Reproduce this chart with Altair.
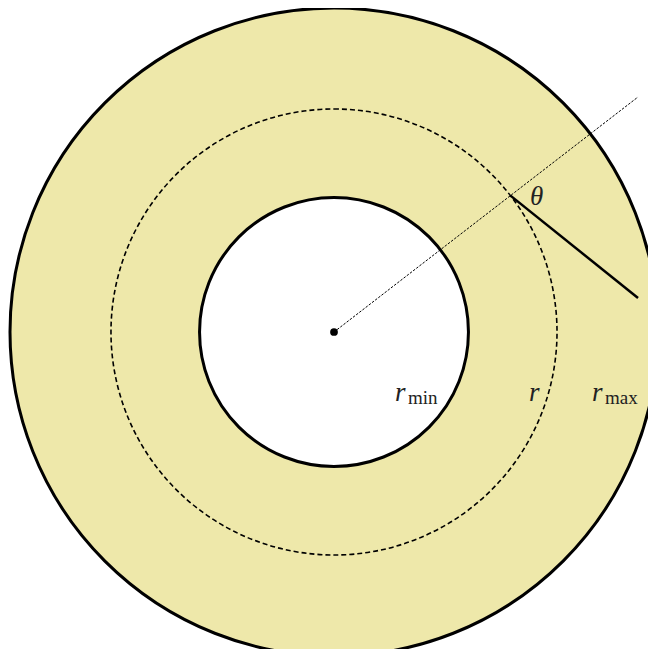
import math
import altair as alt
import pandas as pd

# --- values (units: 1 unit = 108 px) ---
R_MIN = 1.245          # inner radius  (r_min)
R_MID = 2.065          # dashed circle (r)
R_MAX = 3.0            # outer radius  (r_max)
RAY_ANGLE_DEG = 37.7   # direction of the dotted ray
RAY_END = [2.815, 2.176]
SEG_END = [2.815, 0.315]

LABELS = ["r", "r", "r", "θ"]
LABEL_X = [0.565, 1.805, 2.39, 1.815]
LABEL_Y = [-0.639, -0.639, -0.639, 1.176]
SUBS = ["min", "max"]
SUB_X = [0.685, 2.509]
SUB_Y = [-0.667, -0.667]

PX = 108.0
W, H = 640, 641
CX, CY = 326, 324  # centre in plot pixels
xdom = [-CX / PX, (W - CX) / PX]
ydom = [-(H - CY) / PX, CY / PX]

xs = alt.Scale(domain=xdom, nice=False, zero=False)
ys = alt.Scale(domain=ydom, nice=False, zero=False)
rs = alt.Scale(type="linear", domain=[0, R_MAX], range=[0, R_MAX * PX], zero=True, nice=False)

X = lambda f="x": alt.X(f"{f}:Q", scale=xs, axis=None)
Y = lambda f="y": alt.Y(f"{f}:Q", scale=ys, axis=None)

ring = pd.DataFrame({"x": [0.0], "y": [0.0], "r0": [R_MIN], "r1": [R_MAX], "rm": [R_MID], "z": [0.0]})

annulus = alt.Chart(ring).mark_arc(fill="#EEE8AA", stroke="black", strokeWidth=3).encode(
    x=X(), y=Y(),
    radius=alt.Radius("r1:Q", scale=rs),
    radius2="r0:Q",
    theta=alt.value(0), theta2=alt.value(2 * math.pi),
)

dashed = alt.Chart(ring).mark_arc(fill="white", fillOpacity=0, stroke="black",
                                   strokeWidth=1.6, strokeDash=[5, 3]).encode(
    x=X(), y=Y(),
    radius=alt.Radius("rm:Q", scale=rs),
    radius2="z:Q",
    theta=alt.value(0), theta2=alt.value(2 * math.pi),
)

a = math.radians(RAY_ANGLE_DEG)
p0 = [R_MID * math.cos(a), R_MID * math.sin(a)]

ray_df = pd.DataFrame({"x": [0.0, RAY_END[0]], "y": [0.0, RAY_END[1]], "o": [0, 1]})
ray = alt.Chart(ray_df).mark_line(color="black", strokeWidth=1, strokeDash=[2.5, 1.5]).encode(
    x=X(), y=Y(), order="o:Q")

seg_df = pd.DataFrame({"x": [p0[0], SEG_END[0]], "y": [p0[1], SEG_END[1]], "o": [0, 1]})
seg = alt.Chart(seg_df).mark_line(color="black", strokeWidth=2.5).encode(
    x=X(), y=Y(), order="o:Q")

dot = alt.Chart(pd.DataFrame({"x": [0.0], "y": [0.0]})).mark_point(
    filled=True, color="black", size=60, opacity=1).encode(x=X(), y=Y())

lab_df = pd.DataFrame({"t": LABELS, "x": LABEL_X, "y": LABEL_Y})
labels = alt.Chart(lab_df).mark_text(font="Liberation Serif", fontStyle="italic", fontSize=27,
                                      align="left", baseline="alphabetic", color="#222").encode(
    x=X(), y=Y(), text="t:N")

sub_df = pd.DataFrame({"t": SUBS, "x": SUB_X, "y": SUB_Y})
subs = alt.Chart(sub_df).mark_text(font="Liberation Serif", fontSize=19,
                                    align="left", baseline="alphabetic", color="#222").encode(
    x=X(), y=Y(), text="t:N")

chart = alt.layer(annulus, dashed, ray, seg, dot, labels, subs).properties(
    width=W, height=H, padding=0, autosize=alt.AutoSizeParams(type="none")
).configure_view(stroke=None)

chart.save("out.html", embed_options={"renderer": "svg", "actions": False})
